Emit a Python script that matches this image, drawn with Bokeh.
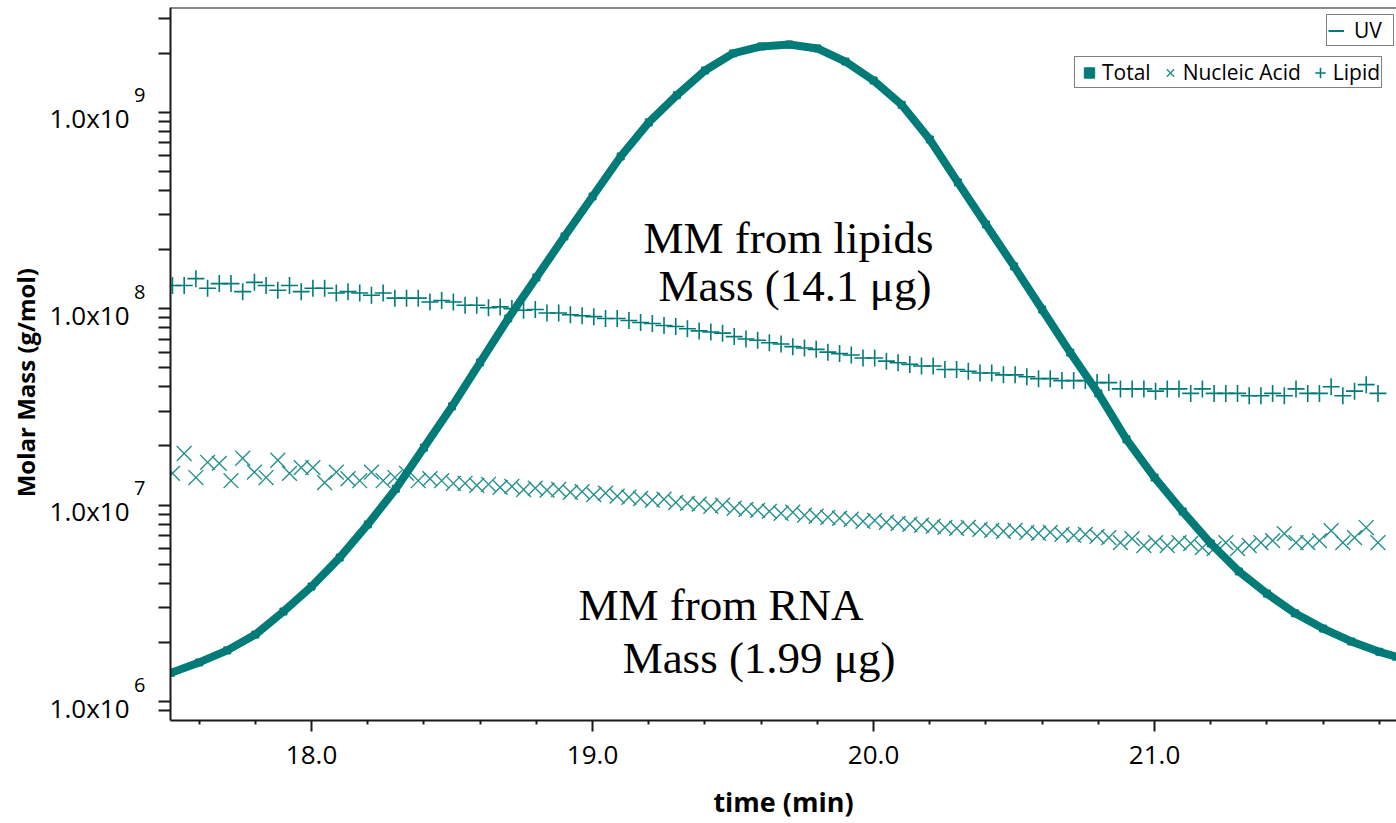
import numpy as np
from bokeh.plotting import figure
from bokeh.models import (Range1d, FixedTicker, Legend, LegendItem, Span, Label, LogAxis,
                          CustomJSTickFormatter, NumeralTickFormatter)
from bokeh.embed import file_html
from bokeh.resources import INLINE

TEAL = "#007b78"
TEAL_X = "#25918d"

# ---------------- data ----------------
# Total molar mass (g/mol) vs time (min)
total_time = [17.5, 17.6, 17.7, 17.8, 17.9, 18.0, 18.1, 18.2, 18.3, 18.4, 18.5, 18.6,
              18.7, 18.8, 18.9, 19.0, 19.1, 19.2, 19.3, 19.4, 19.5, 19.6, 19.7, 19.8,
              19.9, 20.0, 20.1, 20.2, 20.3, 20.4, 20.5, 20.6, 20.7, 20.8, 20.9, 21.0,
              21.1, 21.2, 21.3, 21.4, 21.5, 21.6, 21.7, 21.8, 21.86]
total_mm = [1.40e6, 1.58e6, 1.82e6, 2.19e6, 2.87e6, 3.85e6, 5.40e6, 7.96e6, 1.21e7,
            1.96e7, 3.18e7, 5.32e7, 8.91e7, 1.44e8, 2.33e8, 3.72e8, 5.95e8, 8.87e8,
            1.22e9, 1.63e9, 1.99e9, 2.16e9, 2.21e9, 2.11e9, 1.81e9, 1.45e9, 1.09e9,
            7.26e8, 4.39e8, 2.68e8, 1.64e8, 9.89e7, 5.97e7, 3.70e7, 2.16e7, 1.38e7,
            9.27e6, 6.37e6, 4.59e6, 3.54e6, 2.81e6, 2.35e6, 2.02e6, 1.79e6, 1.69e6]

# Lipid and nucleic-acid molar mass, in 10^6 g/mol, on a regular time grid
comp_time = np.round(np.linspace(17.505, 21.795, 104), 4)
lipid_mm_e6 = [131, 131, 142, 127, 134, 134, 122, 136, 131, 124, 131, 122, 127, 127, 120,
               122, 120, 117, 120, 113, 113, 113, 108, 110, 108, 104,
               104, 101, 102, 100, 98, 99, 95, 95, 93, 92, 91, 89, 89, 87, 85, 84, 82, 81,
               79, 77, 76, 75, 72, 70, 69, 67, 66, 64, 63, 62, 60, 59, 58, 56, 56, 54, 53,
               52, 51, 51, 49, 49, 48, 47, 47, 46, 46, 45, 44, 44, 43, 43, 43, 42,
               42, 39, 39, 39, 38, 39, 39, 37, 39, 37, 37, 37, 36, 36, 37, 36, 39, 37, 37,
               40, 36, 38, 41, 37]
nucleic_mm_e6 = [14.5, 18.3, 13.8, 16.5, 16.3, 13.3, 17.3, 14.7, 13.8, 16.9, 14.5, 15.5,
                 15.5, 13.0, 14.7, 13.6, 13.3, 14.7, 13.3, 13.8, 14.5, 13.3, 13.6, 13.3, 12.9,
                 12.9, 12.6, 12.75, 12.3, 12.45, 12.0, 12.2, 11.9, 12.0, 11.6, 11.7, 11.3,
                 11.5, 11.1, 10.95, 10.8, 10.6, 10.7, 10.3, 10.2, 10.1, 9.86, 9.97, 9.63,
                 9.51, 9.40, 9.29, 9.08, 9.19, 8.87, 8.77, 8.66, 8.56, 8.46, 8.27, 8.36,
                 8.17, 8.07, 7.98, 7.89, 7.80, 7.70, 7.61, 7.70, 7.52, 7.43, 7.35, 7.43,
                 7.26, 7.18, 7.26, 7.09, 7.01, 7.09, 6.93,
                 6.82, 6.44, 6.74, 6.22, 6.44, 6.22, 6.44, 6.37, 6.07, 6.00, 6.44, 6.00,
                 6.22, 6.44, 6.59, 7.15, 6.44, 6.44, 6.59, 7.41, 6.44, 6.82, 7.68, 6.44]
lipid_mm = [v * 1e6 for v in lipid_mm_e6]
nucleic_mm = [v * 1e6 for v in nucleic_mm_e6]

x_major = [18.0, 19.0, 20.0, 21.0]
x_minor = [17.6, 17.8, 18.2, 18.4, 18.6, 18.8, 19.2, 19.4, 19.6, 19.8, 20.2, 20.4,
           20.6, 20.8, 21.2, 21.4, 21.6, 21.8]
y_major = [1e6, 1e7, 1e8, 1e9]
y_base = ["1.0x10", "1.0x10", "1.0x10", "1.0x10"]
y_exp = ["6", "7", "8", "9"]
y_minor = [9e5] + [k * 10.0 ** e for e in (6, 7, 8) for k in range(2, 10)] + [2e9, 3e9]

X0, X1 = 17.498, 21.861
Y0, Y1 = 8.0e5, 3.41e9

# ---------------- figure ----------------
p = figure(width=1396, height=823, x_range=Range1d(X0, X1), y_range=Range1d(Y0, Y1),
           y_axis_type="log", output_backend="svg", toolbar_location=None,
           min_border_left=170, min_border_right=0, min_border_top=7, min_border_bottom=103)
p.outline_line_color = None
p.grid.visible = False
p.background_fill_color = "white"
p.border_fill_color = "white"

AX = "#1a1a1a"
FONT = "Open Sans"

p.xaxis.ticker = FixedTicker(ticks=x_major, minor_ticks=x_minor)
p.xaxis.formatter = NumeralTickFormatter(format="0.0")
p.xaxis.major_label_text_font = FONT
p.xaxis.major_label_text_font_size = "26px"
p.xaxis.major_label_text_color = "black"
p.xaxis.major_label_standoff = 14
p.xaxis.major_tick_out = 11
p.xaxis.major_tick_in = 0
p.xaxis.minor_tick_out = 4
p.xaxis.minor_tick_in = 0
p.xaxis.axis_label = "time (min)"
p.xaxis.axis_label_text_font = FONT
p.xaxis.axis_label_text_font_style = "bold"
p.xaxis.axis_label_text_font_size = "27px"
p.xaxis.axis_label_text_color = "black"
p.xaxis.axis_label_standoff = 16

# inner y axis: line and ticks only
p.yaxis.ticker = FixedTicker(ticks=y_major, minor_ticks=y_minor)
p.yaxis.formatter = CustomJSTickFormatter(code="return ''")
p.yaxis.major_label_standoff = 0
p.yaxis.major_tick_out = 12
p.yaxis.major_tick_in = 0
p.yaxis.minor_tick_out = 12
p.yaxis.minor_tick_in = 0

for ax in (p.xaxis, p.yaxis):
    ax.axis_line_color = AX
    ax.axis_line_width = 2
    ax.major_tick_line_color = AX
    ax.major_tick_line_width = 2
    ax.minor_tick_line_color = AX
    ax.minor_tick_line_width = 2

LOOKUP = ("const i = tvals.findIndex(t => Math.abs(t - tick) <= 1e-6 * t);"
          "return i >= 0 ? tlabels[i] : '';")

# exponent labels (raised) and mantissa labels (lowered) around each decade tick
exp_ticks = [v * 1.216 for v in y_major]
exp_axis = LogAxis(ticker=FixedTicker(ticks=exp_ticks, minor_ticks=[]),
                   formatter=CustomJSTickFormatter(args=dict(tvals=exp_ticks, tlabels=y_exp),
                                                   code=LOOKUP))
base_ticks = [v * 0.929 for v in y_major]
base_axis = LogAxis(ticker=FixedTicker(ticks=base_ticks, minor_ticks=[]),
                    formatter=CustomJSTickFormatter(args=dict(tvals=base_ticks, tlabels=y_base),
                                                    code=LOOKUP))
for ax, fs, so in ((exp_axis, "20px", 13), (base_axis, "26px", 2)):
    ax.axis_line_color = None
    ax.major_tick_line_color = None
    ax.minor_tick_line_color = None
    ax.major_tick_out = 0
    ax.major_tick_in = 0
    ax.major_label_standoff = so
    ax.major_label_text_font = FONT
    ax.major_label_text_font_size = fs
    ax.major_label_text_color = "black"
base_axis.axis_label = "Molar Mass (g/mol)" + "\u00a0" * 6
base_axis.axis_label_text_font = FONT
base_axis.axis_label_text_font_style = "bold"
base_axis.axis_label_text_font_size = "24px"
base_axis.axis_label_text_color = "black"
base_axis.axis_label_standoff = 5
p.add_layout(exp_axis, "left")
p.add_layout(base_axis, "left")

p.add_layout(Span(location=Y1, dimension="width", line_color=AX, line_width=2))

# ---------------- series ----------------
r_nuc = p.scatter(comp_time, nucleic_mm, marker="x", size=21, line_color=TEAL_X,
                  line_width=1.4)
r_lip = p.scatter(comp_time, lipid_mm, marker="cross", size=17, line_color=TEAL,
                  line_width=1.6)
p.line(total_time, total_mm, line_color=TEAL, line_width=8, line_join="round")
r_tot = p.scatter(total_time, total_mm, marker="square", size=7, fill_color=TEAL,
                  line_color=TEAL)

# UV trace is not within this view; legend entry only
r_uv = p.line(x=[np.nan], y=[np.nan], line_color=TEAL, line_width=2)

leg_uv = Legend(items=[LegendItem(label="UV", renderers=[r_uv])],
                location=(1156, 674), orientation="horizontal")
leg_main = Legend(items=[LegendItem(label="Total", renderers=[r_tot]),
                         LegendItem(label="Nucleic Acid", renderers=[r_nuc]),
                         LegendItem(label="Lipid", renderers=[r_lip])],
                  location=(904, 632), orientation="horizontal")
for lg, gw, st, lw, sp in ((leg_uv, 16, 10, 38, 6), (leg_main, 26, 0, 20, 6)):
    lg.border_line_color = "black"
    lg.border_line_width = 1
    lg.background_fill_color = "white"
    lg.background_fill_alpha = 1
    lg.label_text_font = FONT
    lg.label_text_font_size = "21px"
    lg.label_text_color = "black"
    lg.padding = 1
    lg.spacing = sp
    lg.margin = 0
    lg.glyph_width = gw
    lg.glyph_height = 27
    lg.label_height = 20
    lg.label_width = lw
    lg.label_standoff = st
    p.add_layout(lg, "center")

# ---------------- annotations ----------------
SERIF = "Liberation Serif"
for tx, ty, txt in ((19.181, 2.30e8, "MM from lipids"),
                    (19.235, 1.31e8, "Mass (14.1 μg)"),
                    (18.950, 3.08e6, "MM from RNA"),
                    (19.107, 1.67e6, "Mass (1.99 μg)")):
    p.add_layout(Label(x=tx, y=ty, text=txt, text_align="left", text_baseline="alphabetic",
                       text_font=SERIF, text_font_size="45px", text_color="black"))

open("out.html", "w").write(file_html(p, INLINE))
